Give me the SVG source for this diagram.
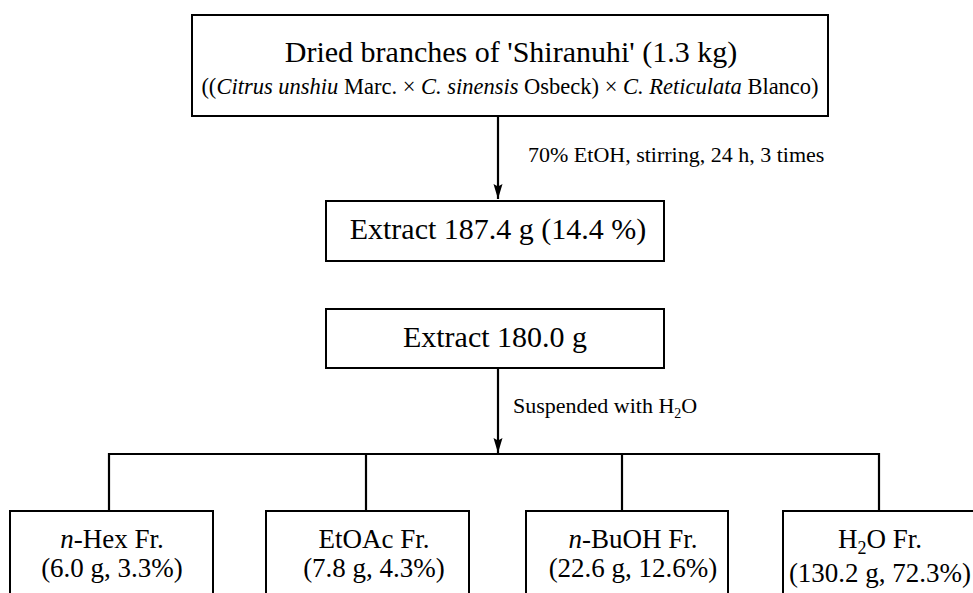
<svg xmlns="http://www.w3.org/2000/svg" width="973" height="593" viewBox="0 0 973 593" font-family="'Liberation Serif', 'Times New Roman', serif">
  <style>
    .box { fill: #ffffff; stroke: #000000; stroke-width: 2; }
    .line { fill: none; stroke: #000000; stroke-width: 2.2; }
    text { font-family: "Liberation Serif", "Times New Roman", serif; fill: #000000; }
    .big { font-size: 30px; text-anchor: middle; }
    .sub { font-size: 22.5px; text-anchor: middle; }
    .label { font-size: 22px; }
    .frac { font-size: 27px; text-anchor: middle; }
    .it { font-style: italic; }
  </style>
  <defs>
    <!-- slim filled arrowhead, drawn along +x so orient="auto" follows the line -->
    <marker id="arrow" markerWidth="16" markerHeight="10" refX="15" refY="5" orient="auto" markerUnits="userSpaceOnUse" viewBox="0 0 16 10">
      <path d="M0,0.5 L15,5 L0,9.5 L2.5,5 Z" fill="#000000"/>
    </marker>
  </defs>

  <!-- connectors -->
  <g id="connectors">
    <line class="line" x1="498" y1="116" x2="498" y2="199" marker-end="url(#arrow)"/>
    <line class="line" x1="498" y1="368" x2="498" y2="453" marker-end="url(#arrow)"/>
    <line class="line" x1="108" y1="454" x2="880" y2="454"/>
    <line class="line" x1="109" y1="453" x2="109" y2="511"/>
    <line class="line" x1="366" y1="453" x2="366" y2="511"/>
    <line class="line" x1="622" y1="453" x2="622" y2="511"/>
    <line class="line" x1="879" y1="453" x2="879" y2="511"/>
    <text class="label" x="528" y="162">70% EtOH, stirring, 24 h, 3 times</text>
    <text class="label" x="513" y="413">Suspended with H<tspan font-size="14" dy="5">2</tspan><tspan dy="-5">O</tspan></text>
  </g>

  <!-- source material -->
  <g id="node-branches">
    <rect class="box" x="192" y="15" width="636" height="101"/>
    <text class="big" x="511" y="62">Dried branches of 'Shiranuhi' (1.3 kg)</text>
    <text class="sub" x="510" y="94">((<tspan class="it">Citrus unshiu</tspan> Marc. × <tspan class="it">C. sinensis</tspan> Osbeck) × <tspan class="it">C. Reticulata</tspan> Blanco)</text>
  </g>

  <!-- crude extract -->
  <g id="node-extract">
    <rect class="box" x="326" y="201" width="338" height="60"/>
    <text class="big" x="498" y="239">Extract 187.4 g (14.4 %)</text>
  </g>

  <!-- portion used for partition -->
  <g id="node-extract-used">
    <rect class="box" x="326" y="309" width="338" height="59"/>
    <text class="big" x="495" y="347">Extract 180.0 g</text>
  </g>

  <!-- solvent fractions -->
  <g id="node-hexane">
    <rect class="box" x="10" y="511" width="203" height="100"/>
    <text class="frac" x="112" y="548"><tspan class="it">n</tspan>-Hex Fr.</text>
    <text class="frac" x="112" y="577">(6.0 g, 3.3%)</text>
  </g>

  <g id="node-ethylacetate">
    <rect class="box" x="266" y="511" width="203" height="100"/>
    <text class="frac" x="374" y="548">EtOAc Fr.</text>
    <text class="frac" x="374" y="577">(7.8 g, 4.3%)</text>
  </g>

  <g id="node-butanol">
    <rect class="box" x="526" y="511" width="202" height="100"/>
    <text class="frac" x="633" y="548"><tspan class="it">n</tspan>-BuOH Fr.</text>
    <text class="frac" x="633" y="577">(22.6 g, 12.6%)</text>
  </g>

  <g id="node-water">
    <rect class="box" x="783" y="511" width="203" height="100"/>
    <text class="frac" x="880" y="548">H<tspan font-size="18" dy="6">2</tspan><tspan dy="-6">O Fr.</tspan></text>
    <text class="frac" x="880" y="582">(130.2 g, 72.3%)</text>
  </g>
</svg>
